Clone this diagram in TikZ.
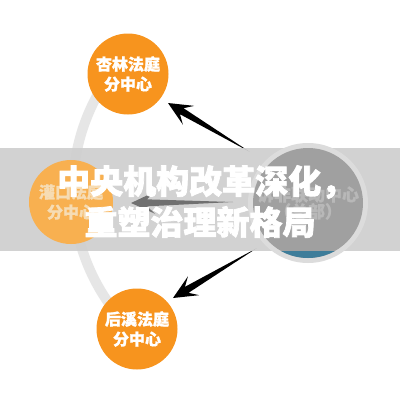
\documentclass[tikz,border=0pt]{standalone}
\usepackage{fontspec}
\usepackage{tikz}
\usetikzlibrary{calc}
\newfontfamily\cjk{Noto Sans CJK SC}[BoldFeatures={FakeBold=1.2}]
\newfontfamily\cjkheavy{Noto Sans CJK SC}[BoldFeatures={FakeBold=2.2}]
\definecolor{courtorange}{HTML}{F7941E}
\definecolor{fadedorange}{HTML}{F8B050}
\definecolor{fadedtext}{HTML}{F6DCB4}
\definecolor{ringgray}{HTML}{E6E6E6}
\definecolor{bandgray}{HTML}{CECECE}
\definecolor{halogray}{HTML}{DCDCDC}
\definecolor{hubgray}{HTML}{A0A0A0}
\definecolor{hubtext}{HTML}{B8B8B8}
\definecolor{hubblue}{HTML}{3E7D9A}
\definecolor{fadedarrow}{HTML}{707070}

% tapered arrow: colour, tail, tip
\newcommand{\arrowspoke}[3]{%
  \coordinate (neck) at ($(#3)!16pt!(#2)$);
  \coordinate (barb) at ($(#3)!24pt!(#2)$);
  \fill[#1] (#2) -- ($(neck)!3.5pt!90:(#2)$) -- ($(barb)!11pt!90:(#2)$) -- (#3)
     -- ($(barb)!11pt!-90:(#2)$) -- ($(neck)!3.5pt!-90:(#2)$) -- cycle;}

\begin{document}
\begin{tikzpicture}[x=1pt, y=-1pt]
\tikzset{branch/.style = {shape=circle, fill=courtorange, minimum size=81pt, inner sep=0pt, align=center, text=white, font=\cjk\bfseries\fontsize{16}{20}\selectfont}}
\tikzset{hubnode/.style = {shape=circle, fill=hubgray, minimum size=110pt, inner sep=0pt, align=center, text=hubtext, font=\cjk\bfseries\fontsize{17}{17}\selectfont}}
\tikzset{title/.style = {text=white, inner sep=0pt, font=\cjkheavy\bfseries\fontsize{33}{33}\selectfont}}

% canvas
\fill[white] (0,0) rectangle (400,400);
\useasboundingbox (0,0) rectangle (400,400);

% ring behind the branch courts
\coordinate (ringc) at (270,190);
\draw[ringgray, line width=10pt] ($(ringc)+(142:197)$) arc[start angle=142, end angle=215, radius=197];

% branch courts above and below the band
\node[branch] (xinglin) at (128,74) {杏林法庭\\分中心};
\node[branch] (houxi) at (137,329) {后溪法庭\\分中心};

% arrows out of the hub
\coordinate (tail1) at (250,152);
\coordinate (tip1) at (168,103);
\coordinate (tail3) at (257,248);
\coordinate (tip3) at (173,298);
\arrowspoke{black}{tail1}{tip1}
\arrowspoke{black}{tail3}{tip3}

% title band
\fill[bandgray, opacity=0.9] (0,148) rectangle (400,251);

% hub
\node[circle, fill=halogray, minimum size=120pt] (halo) at (308,203) {};
\node[hubnode] (hub) at (halo.center) {诉非联动中心\\（总部）};
\begin{scope}
\clip (0,251) rectangle (400,400);
\fill[hubblue] (hub.center) circle (55);
\end{scope}

% branch court inside the band
\node[branch, fill=fadedorange, text=fadedtext, minimum size=84pt] (guankou) at (71,202) {灌口法庭\\分中心};
\coordinate (tail2) at (233,202);
\coordinate (tip2) at (131,203);
\arrowspoke{fadedarrow}{tail2}{tip2}

% title
\node[title, anchor=west] (title1) at (57,182) {中央机构改革深化，};
\node[title] (title2) at (200,222) {重塑治理新格局};
\end{tikzpicture}
\end{document}
